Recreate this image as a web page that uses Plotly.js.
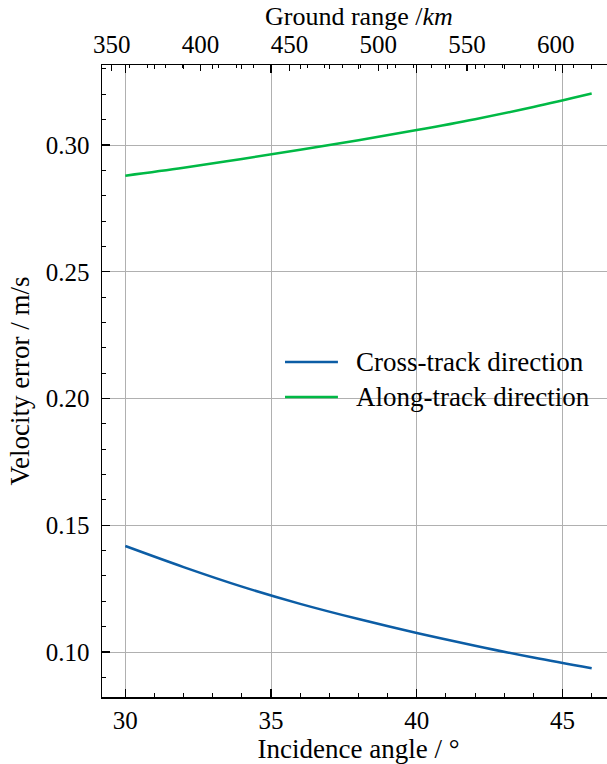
<!DOCTYPE html>
<html>
<head>
<meta charset="utf-8">
<script src="https://cdn.plot.ly/plotly-3.0.1.min.js"></script>
<style>
html,body{margin:0;padding:0;overflow:hidden;background:#fff;}
#chart{width:626px;height:764px;}
</style>
</head>
<body>
<div id="chart"></div>
<script>
// Data
const incidenceAngle = [30, 32, 34, 36, 38, 40, 42, 44, 46];
const crossTrack = [0.1418, 0.1335, 0.1258, 0.1190, 0.1130, 0.1075, 0.1025, 0.0978, 0.0936];
const alongTrack = [0.2879, 0.2910, 0.2945, 0.2981, 0.3019, 0.3059, 0.3102, 0.3150, 0.3203];
const seriesNames = ["Cross-track direction", "Along-track direction"];
const seriesColors = ["#0C5DA5", "#00B945"];
const groundRangeTicks = [350, 400, 450, 500, 550, 600];
const xTitle = "Incidence angle / °";
const yTitle = "Velocity error / m/s";
const topTitle = "Ground range /<i>km</i>";

const FONT = "'Liberation Serif', 'Times New Roman', serif";
const FS = 25;   // tick labels
const FT = 27;   // titles and legend

const traces = [
  {x: incidenceAngle, y: crossTrack, name: seriesNames[0], type: "scatter", mode: "lines",
   line: {color: seriesColors[0], width: 2.5, shape: "spline"}, showlegend: false},
  {x: incidenceAngle, y: alongTrack, name: seriesNames[1], type: "scatter", mode: "lines",
   line: {color: seriesColors[1], width: 2.5, shape: "spline"}, showlegend: false},
  // empty helper trace so that the top (ground range) axis is created
  {x: [], y: [], xaxis: "x2", yaxis: "y", type: "scatter", mode: "lines",
   showlegend: false, hoverinfo: "skip"}
];

const L = 101.7, R = 10.5, T = 65, B = 67, W = 626, H = 764;
const pw = W - L - R, ph = H - T - B;
function px2x(p){ return (p - L) / pw; }
function px2y(p){ return (H - B - p) / ph; }

const legendRows = [362, 397];
const shapes = [], annotations = [];
seriesNames.forEach((n, i) => {
  shapes.push({type: "line", xref: "paper", yref: "paper",
    x0: px2x(285), x1: px2x(338), y0: px2y(legendRows[i]), y1: px2y(legendRows[i]),
    line: {color: seriesColors[i], width: 2.5}});
  annotations.push({xref: "paper", yref: "paper", x: px2x(354), y: px2y(legendRows[i]),
    xanchor: "left", yanchor: "middle", text: n, showarrow: false,
    font: {family: FONT, size: FT, color: "#000"}});
});
// title of the top (ground range) axis
annotations.push({xref: "paper", yref: "paper", x: 0.5, y: px2y(16.5),
  xanchor: "center", yanchor: "middle", text: topTitle, showarrow: false,
  font: {family: FONT, size: 26, color: "#000"}});

const layout = {
  width: W, height: H,
  margin: {l: L, r: R, t: T, b: B, pad: 0},
  paper_bgcolor: "#fff", plot_bgcolor: "#fff",
  font: {family: FONT, size: FS, color: "#000"},
  showlegend: false,
  xaxis: {
    range: [29.2, 46.8], tick0: 30, dtick: 5,
    ticks: "inside", ticklen: 8, tickwidth: 1.2, tickcolor: "#000",
    minor: {dtick: 1, ticks: "inside", ticklen: 4, tickwidth: 1, tickcolor: "#000", showgrid: false},
    showline: true, linecolor: "#000", linewidth: 1.5, mirror: "ticks",
    showgrid: true, gridcolor: "#b0b0b0", gridwidth: 1,
    zeroline: false, ticklabelstandoff: 0,
    tickfont: {family: FONT, size: FS},
    title: {text: xTitle, font: {family: FONT, size: FT}, standoff: 8}
  },
  xaxis2: {
    overlaying: "x", side: "top", anchor: "y",
    range: [344.5, 633.3], tick0: 0, dtick: 50,
    ticks: "inside", ticklen: 6, tickwidth: 1.2, tickcolor: "#000",
    minor: {dtick: 10, ticks: "inside", ticklen: 3, tickwidth: 1, tickcolor: "#000", showgrid: false},
    showline: false, showgrid: false, zeroline: false, ticklabelstandoff: 6,
    tickfont: {family: FONT, size: FS}
  },
  yaxis: {
    range: [0.08225, 0.33156], tick0: 0, dtick: 0.05, tickformat: ".2f",
    ticks: "inside", ticklen: 8, tickwidth: 1.2, tickcolor: "#000",
    minor: {dtick: 0.01, ticks: "inside", ticklen: 4, tickwidth: 1, tickcolor: "#000", showgrid: false},
    showline: true, linecolor: "#000", linewidth: 1.5, mirror: "ticks",
    showgrid: true, gridcolor: "#b0b0b0", gridwidth: 1,
    zeroline: false, ticklabelstandoff: 6,
    tickfont: {family: FONT, size: FS},
    title: {text: yTitle, font: {family: FONT, size: FT}, standoff: 8}
  },
  shapes: shapes,
  annotations: annotations
};

Plotly.newPlot("chart", traces, layout, {displayModeBar: false, staticPlot: true});
</script>
</body>
</html>
